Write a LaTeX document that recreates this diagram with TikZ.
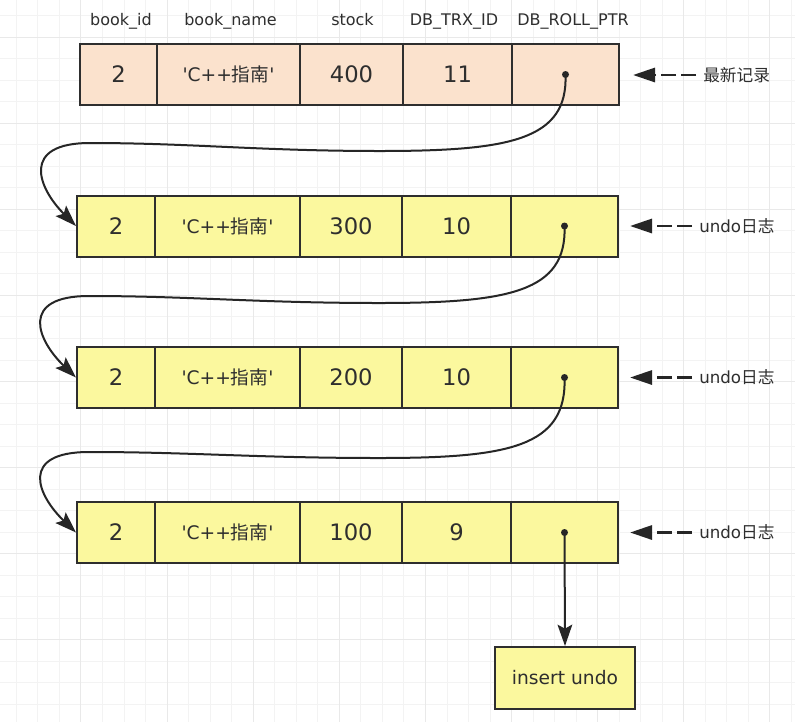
\documentclass[tikz,border=0pt]{standalone}
\usepackage{fontspec}
\newfontfamily\plainfont{DejaVu Sans}
\newfontfamily\cjk{Noto Sans CJK SC}
\usetikzlibrary{arrows.meta}
\definecolor{peach}{HTML}{FBE2CD}
\definecolor{yel}{HTML}{FBF89E}
\definecolor{ink}{HTML}{2E2E2E}
\definecolor{dark}{HTML}{262626}
\definecolor{gmin}{HTML}{F3F3F3}
\definecolor{gmaj}{HTML}{E9E9E9}
\newcommand\hdrfont{\fontsize{12}{14}\selectfont}
\newcommand\valfont{\fontsize{17}{20}\selectfont}
\newcommand\namefont{\fontsize{14}{16}\selectfont}
\newcommand\lblfont{\fontsize{12.5}{15}\selectfont}
\begin{document}
\begin{tikzpicture}[x=0.75pt,y=-0.75pt,font=\plainfont,
  cellbox/.style={draw=ink,line width=1.5pt,rectangle,inner sep=0pt,minimum height=45.75pt,text=ink},
  hdr/.style={anchor=base,text=ink,font=\plainfont\hdrfont},
  dotnode/.style={circle,fill=dark,inner sep=0pt,minimum size=5.25pt},
  link/.style={draw=dark,line width=1.5pt,-{Stealth[length=16pt,width=11pt,inset=3pt]}},
  lblarrow/.style={draw=dark,line width=2.2pt,dash pattern=on 10.9pt off 4.1pt,shorten <=5.25pt,-{Triangle[length=16.5pt,width=10.5pt]}},
  lbl/.style={anchor=west,inner sep=0pt,text=ink,font=\plainfont\lblfont}]
\useasboundingbox (0,0) rectangle (795,722);
\fill[white] (0,0) rectangle (795,722);
% grid
\begin{scope}
\clip (0,0) rectangle (795,722);
\foreach \k in {0,...,37} {\draw[gmin,line width=0.75pt] ({-5.13+21.53*\k},0) -- ({-5.13+21.53*\k},722);}
\foreach \k in {0,...,34} {\draw[gmin,line width=0.75pt] (0,{-6+21.53*\k}) -- (795,{-6+21.53*\k});}
\foreach \k in {0,...,9} {\draw[gmaj,line width=0.75pt] ({-5.13+86.12*\k},0) -- ({-5.13+86.12*\k},722);}
\foreach \k in {0,...,8} {\draw[gmaj,line width=0.75pt] (0,{37.06+86.12*(\k-1)}) -- (795,{37.06+86.12*(\k-1)});}
\end{scope}
% headers
\node[hdr] (h1) at (121,25) {book\_id};
\node[hdr] (h2) at (230.5,25) {book\_name};
\node[hdr] (h3) at (352.5,25) {stock};
\node[hdr] (h4) at (454,25) {DB\_TRX\_ID};
\node[hdr] (h5) at (573,25) {DB\_ROLL\_PTR};
% row 1
\node[cellbox,fill=peach,minimum width=57.75pt] (r1a) at (118.5,74.5) {\valfont 2};
\node[cellbox,fill=peach,minimum width=107.25pt] (r1b) at (228.5,74.5) {\namefont 'C++{\cjk 指南}'};
\node[cellbox,fill=peach,minimum width=77.25pt] (r1c) at (351.5,74.5) {\valfont 400};
\node[cellbox,fill=peach,minimum width=81.75pt] (r1d) at (457.5,74.5) {\valfont 11};
\node[cellbox,fill=peach,minimum width=80.25pt] (r1e) at (565.5,74.5) {};
% row 2
\node[cellbox,fill=yel,minimum width=58.5pt] (r2a) at (116,226) {\valfont 2};
\node[cellbox,fill=yel,minimum width=108.75pt] (r2b) at (227.5,226) {\namefont 'C++{\cjk 指南}'};
\node[cellbox,fill=yel,minimum width=76.5pt] (r2c) at (351,226) {\valfont 300};
\node[cellbox,fill=yel,minimum width=81.75pt] (r2d) at (456.5,226) {\valfont 10};
\node[cellbox,fill=yel,minimum width=80.25pt] (r2e) at (564.5,226) {};
% row 3
\node[cellbox,fill=yel,minimum width=58.5pt] (r3a) at (116,377.5) {\valfont 2};
\node[cellbox,fill=yel,minimum width=108.75pt] (r3b) at (227.5,377.5) {\namefont 'C++{\cjk 指南}'};
\node[cellbox,fill=yel,minimum width=76.5pt] (r3c) at (351,377.5) {\valfont 200};
\node[cellbox,fill=yel,minimum width=81.75pt] (r3d) at (456.5,377.5) {\valfont 10};
\node[cellbox,fill=yel,minimum width=80.25pt] (r3e) at (564.5,377.5) {};
% row 4
\node[cellbox,fill=yel,minimum width=58.5pt] (r4a) at (116,532.5) {\valfont 2};
\node[cellbox,fill=yel,minimum width=108.75pt] (r4b) at (227.5,532.5) {\namefont 'C++{\cjk 指南}'};
\node[cellbox,fill=yel,minimum width=76.5pt] (r4c) at (351,532.5) {\valfont 100};
\node[cellbox,fill=yel,minimum width=81.75pt] (r4d) at (456.5,532.5) {\valfont 9};
\node[cellbox,fill=yel,minimum width=80.25pt] (r4e) at (564.5,532.5) {};
% insert undo box
\node[cellbox,fill=yel,minimum width=105pt,minimum height=46.5pt] (ins) at (565,678) {\namefont insert undo};
% dots
\node[dotnode] (d1) at (r1e.center) {};
\node[dotnode] (d2) at (r2e.center) {};
\node[dotnode] (d3) at (r3e.center) {};
\node[dotnode] (d4) at (r4e.center) {};
% curved links
\draw[link] (d1.center) .. controls (568,140) and (510,151) .. (380,151)
  .. controls (260,151) and (190,143) .. (90,143)
  .. controls (20,143) and (38,188) .. (r2a.west);
\draw[link] (d2.center) .. controls (567,292) and (509,303) .. (379,303)
  .. controls (259,303) and (189,296) .. (89,296)
  .. controls (19,296) and (37,340) .. (r3a.west);
\draw[link] (d3.center) .. controls (567,447) and (509,458) .. (379,458)
  .. controls (259,458) and (189,452) .. (89,452)
  .. controls (19,452) and (37,495) .. (r4a.west);
\draw[link] (d4.center) -- (ins.north);
% right labels
\node[lbl] (l1) at (703,75) {\cjk 最新记录};
\node[lbl] (l2) at (699,226) {undo{\cjk 日志}};
\node[lbl] (l3) at (699,377.5) {undo{\cjk 日志}};
\node[lbl] (l4) at (699,532.5) {undo{\cjk 日志}};
\coordinate (t1) at (633,75);
\coordinate (t2) at (630,226);
\coordinate (t3) at (630,377.5);
\coordinate (t4) at (630,532.5);
\draw[lblarrow] (l1.west) -- (t1);
\draw[lblarrow] (l2.west) -- (t2);
\draw[lblarrow] (l3.west) -- (t3);
\draw[lblarrow] (l4.west) -- (t4);
\end{tikzpicture}
\end{document}
